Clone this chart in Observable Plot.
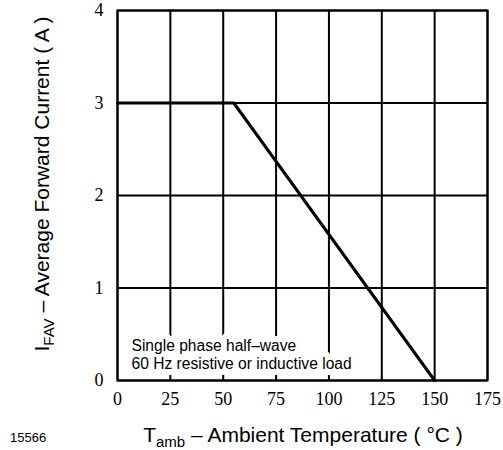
<!DOCTYPE html>
<html><head><meta charset="utf-8">
<script src="https://cdn.jsdelivr.net/npm/d3@7"></script>
<script src="https://cdn.jsdelivr.net/npm/@observablehq/plot@0.6"></script>
<style>
body{margin:0;background:#fff}
.tick-label, .tick-label text { font-family: "Liberation Serif", "Times New Roman", Times, serif !important; font-variant: normal !important; }
</style>
</head><body><div id="chart"></div>
<script>
// Data
const temperature = [0, 55, 150];
const current = [3, 3, 0];
const xTicks = [0, 25, 50, 75, 100, 125, 150, 175];
const yTicks = [0, 1, 2, 3, 4];
const noteLines = ["Single phase half\u2013wave", "60 Hz resistive or inductive load"];
const xTitle = ["T", "amb", " \u2013 Ambient Temperature ( \u00B0C )"];
const yTitle = ["I", "FAV", " \u2013 Average Forward Current ( A )"];
const figureId = "15566";

const pts = temperature.map((t, k) => ({t, a: current[k]}));
const sans = "Liberation Sans, Arial, Helvetica, sans-serif";
const serif = "Liberation Serif, Times New Roman, Times, serif";
const noteOpts = {
  text: d => d, frameAnchor: "bottom-left", textAnchor: "start", lineAnchor: "bottom",
  dx: 14, dy: -12, fontSize: 15.6, fontFamily: sans, lineHeight: 1.1
};

const svg = Plot.plot({
  width: 503, height: 450,
  marginLeft: 117, marginRight: 16, marginTop: 10, marginBottom: 70,
  style: {background: "#fff", color: "#000"},
  x: {domain: [0, 175], axis: null},
  y: {domain: [0, 4], axis: null},
  marks: [
    Plot.gridX(xTicks, {stroke: "#000", strokeOpacity: 1, strokeWidth: 2}),
    Plot.gridY(yTicks, {stroke: "#000", strokeOpacity: 1, strokeWidth: 2}),
    Plot.text([noteLines.join("\n")], {...noteOpts, fill: "none", stroke: "#fff", strokeWidth: 12}),
    Plot.text([noteLines.join("\n")], {...noteOpts, fill: "#000"}),
    Plot.frame({stroke: "#000", strokeWidth: 2}),
    Plot.line(pts, {x: "t", y: "a", stroke: "#000", strokeWidth: 3}),
    Plot.text(xTicks, {x: d => d, text: d => String(d), frameAnchor: "bottom", lineAnchor: "top",
      dy: 12, fontSize: 18, fontFamily: serif, fill: "#000", className: "tick-label"}),
    Plot.text(yTicks, {y: d => d, text: d => String(d), frameAnchor: "left", textAnchor: "end",
      dx: -14, fontSize: 18, fontFamily: serif, fill: "#000", className: "tick-label"})
  ]
});
document.getElementById("chart").appendChild(svg);

const s = d3.select(svg);
s.selectAll(".tick-label, .tick-label text").each(function() {
  this.setAttribute("font-family", serif);
  this.removeAttribute("font-variant");
});
function title(sel, parts) {
  sel.attr("font-family", sans).attr("font-size", 21).attr("fill", "#000");
  sel.append("tspan").text(parts[0]);
  sel.append("tspan").attr("font-size", 15).attr("dy", 5).text(parts[1]);
  sel.append("tspan").attr("dy", -5).text(parts[2]);
}
title(s.append("text").attr("x", 303).attr("y", 442).attr("text-anchor", "middle"), xTitle);
title(s.append("text").attr("transform", "translate(49,184) rotate(-90)").attr("text-anchor", "middle"), yTitle);
s.append("text").attr("x", 10).attr("y", 442).attr("text-anchor", "start").attr("font-family", sans)
  .attr("font-size", 13).attr("fill", "#000").text(figureId);
</script>
</body></html>
